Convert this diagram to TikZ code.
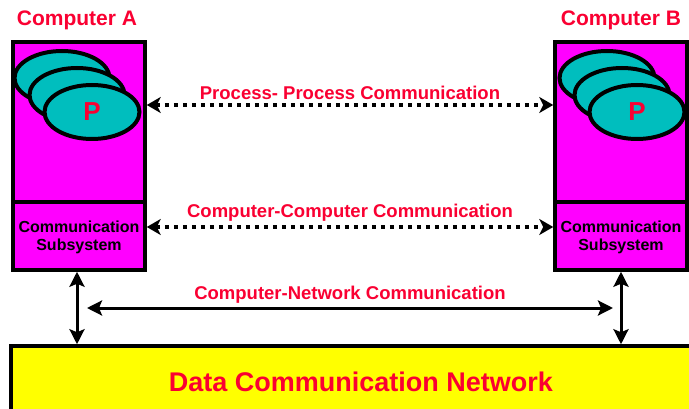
\documentclass[tikz,border=0pt]{standalone}
\usepackage{fontspec}
\setmainfont{Liberation Sans}
\usepackage{xcolor}
\usetikzlibrary{shapes.geometric, arrows.meta, positioning}

\definecolor{procteal}{RGB}{0,190,190}
\definecolor{labelred}{RGB}{250,0,50}
\definecolor{boxmagenta}{RGB}{255,0,255}
\definecolor{netyellow}{RGB}{255,255,0}

\tikzset{
  box/.style={draw, line width=3.5pt, fill=boxmagenta, inner sep=0pt},
  proc/.style={ellipse, draw, line width=4pt, fill=procteal, inner sep=0pt,
    minimum width=95pt, minimum height=54pt},
  title/.style={text=labelred, font=\fontsize{21pt}{23pt}\selectfont\bfseries},
  linklabel/.style={text=labelred, font=\fontsize{18.5pt}{20pt}\selectfont\bfseries},
  subtext/.style={align=center, font=\fontsize{16pt}{18pt}\selectfont\bfseries},
  dotlink/.style={line width=4pt, dash pattern=on 4pt off 5pt,
    {Stealth[length=14pt,width=16pt,inset=4pt]}-{Stealth[length=14pt,width=16pt,inset=4pt]}},
  netlink/.style={line width=3pt,
    {Stealth[length=15pt,width=15pt,inset=3pt]}-{Stealth[length=15pt,width=15pt,inset=3pt]}}
}

\begin{document}
\begin{tikzpicture}[x=1pt, y=-1pt]
  \useasboundingbox[fill=white] (0,0) rectangle (689,409);

  % computer A
  \node[box, minimum width=132pt, minimum height=160pt] (compA) at (79,122) {};
  \node[box, minimum width=132pt, minimum height=68pt] (subA) at (79,236) {};
  \node[subtext] (subAtext) at (79,237) {Communication\\Subsystem};
  \node[proc] (pA1) at (62,78) {};
  \node[proc] (pA2) at (77,95) {};
  \node[proc, text=labelred, font=\fontsize{26pt}{26pt}\selectfont\bfseries] (pA3) at (92,112) {P};
  \node[title] (nameA) at (77,20) {Computer A};

  % computer B
  \node[box, minimum width=132pt, minimum height=160pt] (compB) at (621,122) {};
  \node[box, minimum width=132pt, minimum height=68pt] (subB) at (621,236) {};
  \node[subtext] (subBtext) at (621,237) {Communication\\Subsystem};
  \node[proc] (pB1) at (607,78) {};
  \node[proc] (pB2) at (622,95) {};
  \node[proc, text=labelred, font=\fontsize{26pt}{26pt}\selectfont\bfseries] (pB3) at (637,112) {P};
  \node[title] (nameB) at (621,20) {Computer B};

  % network
  \node[draw, line width=3.5pt, fill=netyellow, minimum width=700pt, minimum height=72pt,
    text=labelred, font=\fontsize{27pt}{29pt}\selectfont\bfseries] (net) at (361,382)
    {Data Communication Network};

  % links
  \draw[dotlink] ([yshift=17pt]compA.east) -- ([yshift=17pt]compB.west)
    node[midway, above=0pt, linklabel] (pplabel) {Process- Process Communication};
  \draw[dotlink] ([yshift=9pt]subA.east) -- ([yshift=9pt]subB.west)
    node[midway, above=0pt, linklabel] (cclabel) {Computer-Computer Communication};

  \coordinate (netL) at (87,308);
  \coordinate (netR) at (613,308);
  \draw[netlink] (netL) -- (netR)
    node[midway, above=0pt, linklabel] (cnlabel) {Computer-Network Communication};
  \draw[netlink] ([xshift=-2pt]subA.south) -- ([xshift=-2pt]subA.south |- net.north);
  \draw[netlink] (subB.south) -- (subB.south |- net.north);
\end{tikzpicture}
\end{document}
